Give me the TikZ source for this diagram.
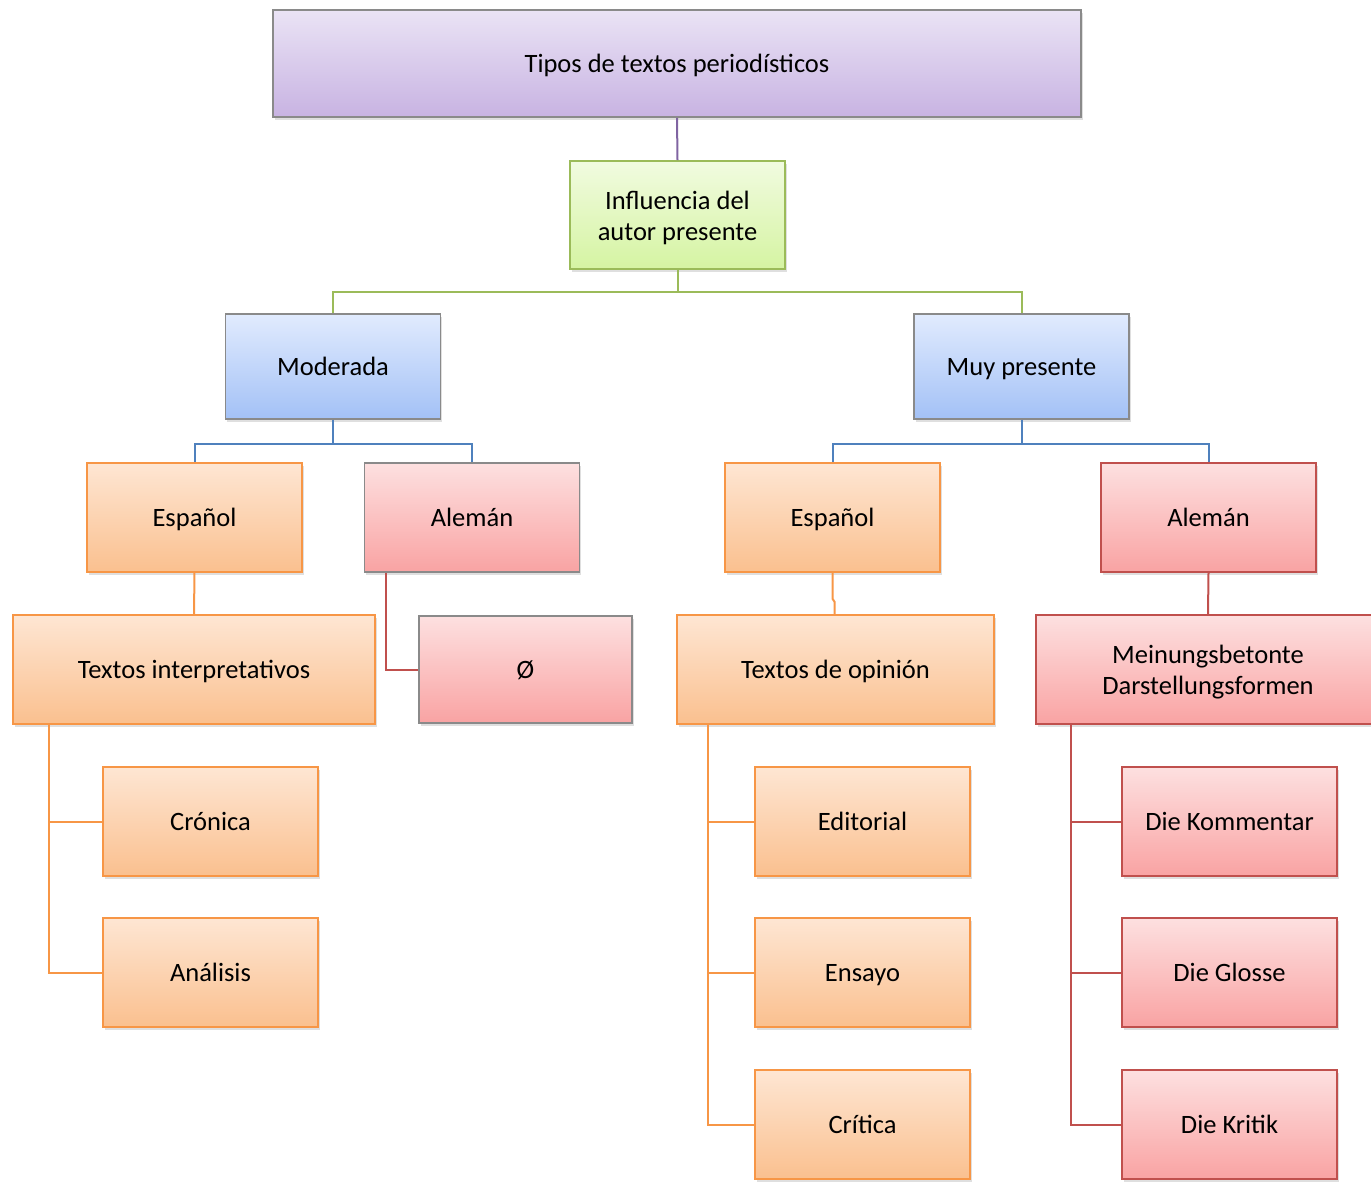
\documentclass[tikz,border=0pt]{standalone}
\usepackage{fontspec}
\setmainfont{Carlito}
\usetikzlibrary{shadows}
\definecolor{purpT}{HTML}{EAE3F5}
\definecolor{purpB}{HTML}{C8B3E2}
\definecolor{greenT}{HTML}{F1FBE0}
\definecolor{greenB}{HTML}{D5F4A2}
\definecolor{blueT}{HTML}{E1EBFE}
\definecolor{blueB}{HTML}{A3C1F6}
\definecolor{orT}{HTML}{FEE6D3}
\definecolor{orB}{HTML}{FAC08F}
\definecolor{redT}{HTML}{FDE0E0}
\definecolor{redB}{HTML}{F9A3A3}
\definecolor{grayE}{HTML}{8A8A8A}
\definecolor{lnPurple}{HTML}{8064A2}
\definecolor{lnGreen}{HTML}{9BBB59}
\definecolor{lnBlue}{HTML}{4F81BD}
\definecolor{lnOrange}{HTML}{F79646}
\definecolor{lnRed}{HTML}{C0504D}
\newcommand{\upstrut}{\rule{0pt}{24pt}}
\tikzset{
  x=1pt, y=-1pt,
  box/.style={rectangle, draw, line width=1.6pt, align=center,
    font=\fontsize{26.5}{31}\selectfont, text=black,
    drop shadow={opacity=0.25, shadow xshift=1.5pt, shadow yshift=-3pt},
    minimum width=215pt, minimum height=109pt, inner sep=2pt},
  one/.style={text height=22pt, text depth=4pt},
  purplebox/.style={box, draw=grayE, top color=purpT, bottom color=purpB},
  greenbox/.style={box, draw=lnGreen, top color=greenT, bottom color=greenB},
  bluebox/.style={box, draw=grayE, top color=blueT, bottom color=blueB},
  orbox/.style={box, draw=lnOrange, top color=orT, bottom color=orB},
  redbox/.style={box, draw=lnRed, top color=redT, bottom color=redB},
  redgraybox/.style={box, draw=grayE, top color=redT, bottom color=redB},
  conn/.style={line width=2pt},
}
\begin{document}
\begin{tikzpicture}
\useasboundingbox (0,0) rectangle (1371,1182);
% nodes
\node[purplebox, one, minimum width=808pt, minimum height=107pt] (top) at (677,63.5) {Tipos de textos periodísticos};
\node[greenbox, minimum height=108pt] (infl) at (677.5,215) {\upstrut Influencia del\\autor presente};
\node[bluebox, one, minimum height=105pt] (mod) at (333,366.5) {Moderada};
\node[bluebox, one, minimum height=105pt] (muy) at (1021.5,366.5) {Muy presente};
\node[orbox, one] (espL) at (194.5,517.5) {Español};
\node[redgraybox, one] (aleL) at (472,517.5) {Alemán};
\node[orbox, one] (espR) at (832.5,517.5) {Español};
\node[redbox, one] (aleR) at (1208.5,517.5) {Alemán};
\node[orbox, one, minimum width=362pt] (tint) at (194,669.5) {Textos interpretativos};
\node[redgraybox, one, minimum width=213pt, minimum height=107pt] (empt) at (525.5,669.5) {Ø};
\node[orbox, one, minimum width=317pt] (topi) at (835.5,669.5) {Textos de opinión};
\node[redbox, minimum width=344pt] (mein) at (1208,669.5) {\upstrut Meinungsbetonte\\Darstellungsformen};
\node[orbox, one] (cron) at (210.5,821.5) {Crónica};
\node[orbox, one] (anal) at (210.5,972.5) {Análisis};
\node[orbox, one] (edit) at (862.5,821.5) {Editorial};
\node[orbox, one] (ens) at (862.5,972.5) {Ensayo};
\node[orbox, one] (crit) at (862.5,1124.5) {Crítica};
\node[redbox, one] (komm) at (1229.5,821.5) {Die Kommentar};
\node[redbox, one] (glos) at (1229.5,972.5) {Die Glosse};
\node[redbox, one] (krit) at (1229.5,1124.5) {Die Kritik};
% connectors
\draw[conn, lnPurple] (top.south) -- (infl.north);
\draw[conn, lnGreen] (infl.south) -- ++(0,22) -| (mod.north);
\draw[conn, lnGreen] (infl.south) -- ++(0,22) -| (muy.north);
\draw[conn, lnBlue] (mod.south) -- ++(0,24) -| (espL.north);
\draw[conn, lnBlue] (mod.south) -- ++(0,24) -| (aleL.north);
\draw[conn, lnBlue] (muy.south) -- ++(0,24) -| (espR.north);
\draw[conn, lnBlue] (muy.south) -- ++(0,24) -| (aleR.north);
\draw[conn, lnOrange] (espL.south) -- (tint.north);
\coordinate (aleLfoot) at ([xshift=22pt]aleL.south west);
\draw[conn, lnRed] (aleLfoot) |- (empt.west);
\coordinate (espRbend) at ([yshift=-26pt]espR.south);
\draw[conn, lnOrange] (espR.south) -- (espRbend) -- ++(2,3) |- (topi.north);
\draw[conn, lnRed] (aleR.south) -- (mein.north);
\coordinate (tintfoot) at ([xshift=37pt]tint.south west);
\draw[conn, lnOrange] (tintfoot) |- (cron.west);
\draw[conn, lnOrange] (tintfoot) |- (anal.west);
\coordinate (topifoot) at ([xshift=32pt]topi.south west);
\draw[conn, lnOrange] (topifoot) |- (edit.west);
\draw[conn, lnOrange] (topifoot) |- (ens.west);
\draw[conn, lnOrange] (topifoot) |- (crit.west);
\coordinate (meinfoot) at ([xshift=36pt]mein.south west);
\draw[conn, lnRed] (meinfoot) |- (komm.west);
\draw[conn, lnRed] (meinfoot) |- (glos.west);
\draw[conn, lnRed] (meinfoot) |- (krit.west);
\end{tikzpicture}
\end{document}
